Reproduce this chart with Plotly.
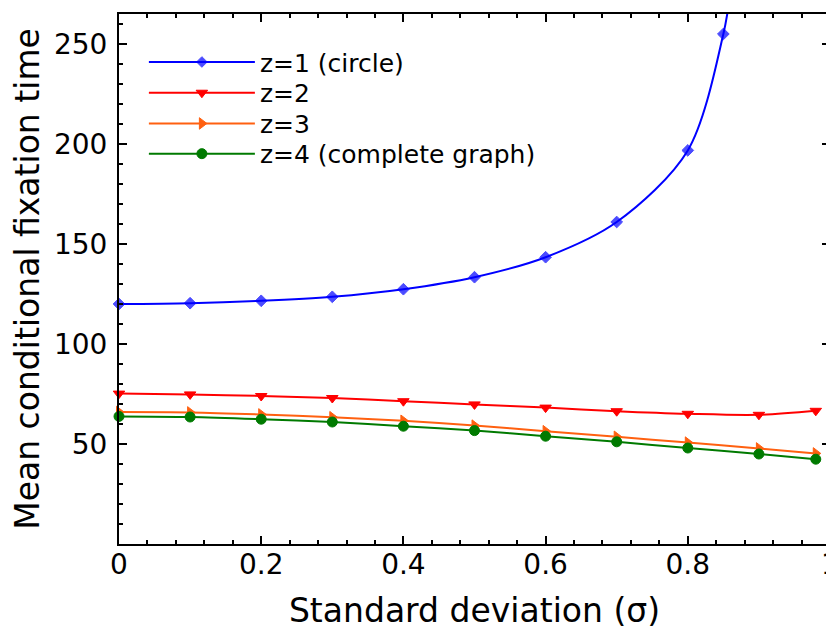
import plotly.graph_objects as go

# Data
sigma = [0.0, 0.1, 0.2, 0.3, 0.4, 0.5, 0.6, 0.7, 0.8, 0.9, 0.98]

sigma_z1 = [0.0, 0.1, 0.2, 0.3, 0.4, 0.5, 0.6, 0.7, 0.8, 0.85, 0.86]
time_z1 = [120.0, 120.4, 121.6, 123.6, 127.4, 133.4, 143.4, 161.0, 196.8, 255.0, 276.0]
time_z2 = [75.2, 74.8, 74.0, 73.0, 71.4, 69.8, 68.2, 66.4, 65.1, 64.6, 66.6]
time_z3 = [66.0, 65.8, 64.8, 63.4, 61.6, 59.2, 56.4, 53.6, 50.7, 47.8, 45.3]
time_z4 = [63.8, 63.5, 62.4, 61.0, 58.9, 56.7, 53.9, 51.1, 48.0, 45.0, 42.4]

series_names = ["z=1 (circle)", "z=2", "z=3", "z=4 (complete graph)"]
x_ticks = [0, 0.2, 0.4, 0.6, 0.8, 1.0]
x_tick_labels = ["0", "0.2", "0.4", "0.6", "0.8", "1"]
y_ticks = [50, 100, 150, 200, 250]

FONT = "DejaVu Sans"

fig = go.Figure()

fig.add_trace(go.Scatter(
    x=sigma_z1, y=time_z1, name=series_names[0], mode="lines+markers",
    line=dict(color="#0000ff", width=2, shape="spline", smoothing=0.9),
    marker=dict(symbol="diamond", size=[9] * 10 + [0], color="#0000ff",
                line=dict(width=1, color="#0000ff")),
    cliponaxis=False, legend="legend",
))
fig.add_trace(go.Scatter(
    x=sigma, y=time_z2, name=series_names[1], mode="lines+markers",
    line=dict(color="#ff0000", width=2, shape="spline", smoothing=0.9),
    marker=dict(symbol="triangle-down", size=10, color="#ff0000",
                line=dict(width=1, color="#ff0000")),
    cliponaxis=False, legend="legend2",
))
fig.add_trace(go.Scatter(
    x=sigma, y=time_z3, name=series_names[2], mode="lines+markers",
    line=dict(color="#ff6010", width=2, shape="spline", smoothing=0.9),
    marker=dict(symbol="triangle-right", size=10, color="#ff6010",
                line=dict(width=1, color="#ff6010")),
    cliponaxis=False, legend="legend3",
))
fig.add_trace(go.Scatter(
    x=sigma, y=time_z4, name=series_names[3], mode="lines+markers",
    line=dict(color="#007a00", width=2, shape="spline", smoothing=0.9),
    marker=dict(symbol="circle", size=10, color="#007a00",
                line=dict(width=1, color="#007a00")),
    cliponaxis=False, legend="legend4",
))

axis_common = dict(
    showline=True, linewidth=2, linecolor="black", mirror="allticks",
    ticks="inside", ticklen=8, tickwidth=1.5, tickcolor="black",
    showgrid=False, zeroline=False, automargin=False,
    ticklabeloverflow="allow",
    tickfont=dict(family=FONT, size=28, color="black"),
)


def legend_box(ypos):
    return dict(
        x=0.035, y=ypos, xanchor="left", yanchor="middle",
        bgcolor="rgba(0,0,0,0)", borderwidth=0,
        font=dict(family=FONT, size=25, color="black"),
        itemwidth=106,
    )


# The page body adds an 8px offset; the figure is sized so the plot area
# lands where the reference has it in the 834x630 window.
fig.update_layout(
    width=826, height=622,
    margin=dict(l=111, r=4, t=6, b=86),
    paper_bgcolor="white", plot_bgcolor="white",
    font=dict(family=FONT, color="black"),
    showlegend=True,
    legend=legend_box(0.909),
    legend2=legend_box(0.851),
    legend3=legend_box(0.793),
    legend4=legend_box(0.736),
    xaxis=dict(
        range=[0, 1], tickvals=x_ticks, ticktext=x_tick_labels,
        ticklabelstandoff=-6,
        minor=dict(dtick=0.04, ticks="inside", ticklen=4, tickcolor="black", tickwidth=1.5),
        title=dict(text="Standard deviation (σ)", font=dict(family=FONT, size=33, color="black"), standoff=20),
        **axis_common,
    ),
    yaxis=dict(
        range=[0, 265], tickvals=y_ticks, ticklabelstandoff=4,
        minor=dict(dtick=10, ticks="inside", ticklen=4, tickcolor="black", tickwidth=1.5),
        title=dict(text="Mean conditional fixation time", font=dict(family=FONT, size=33, color="black"), standoff=28),
        **axis_common,
    ),
)

fig.write_html("out.html")
